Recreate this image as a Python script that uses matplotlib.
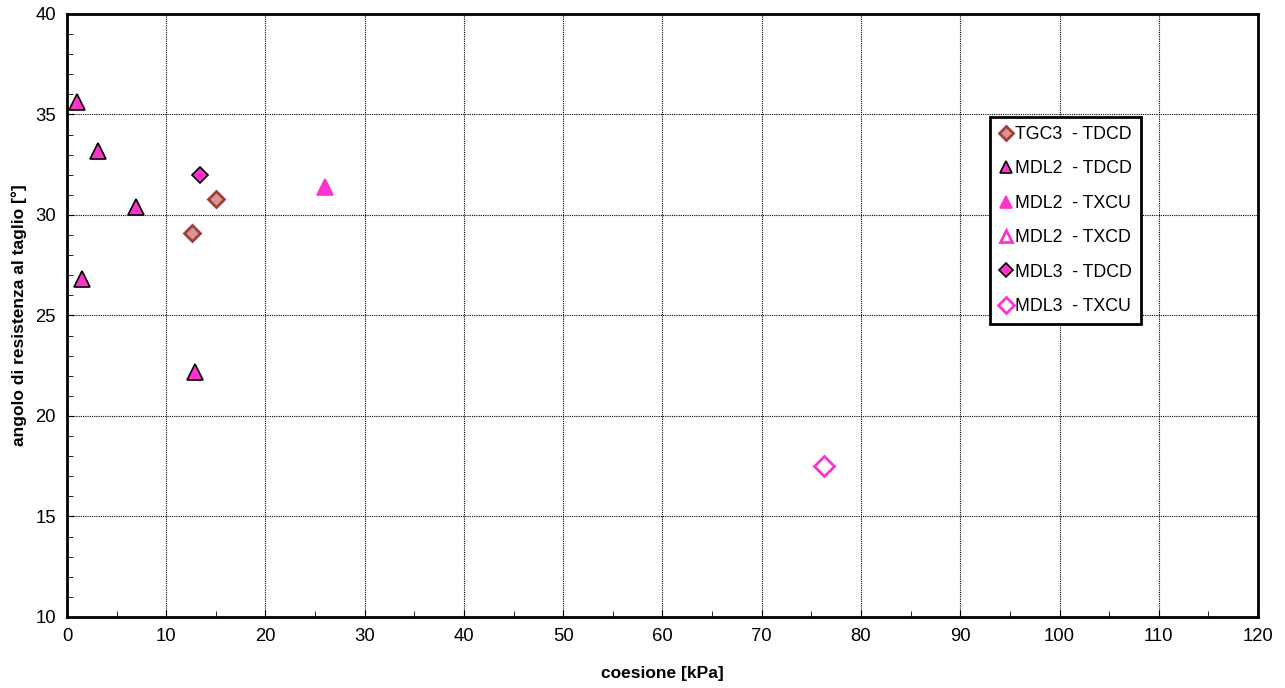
import matplotlib
matplotlib.use("Agg")
import matplotlib.pyplot as plt
from matplotlib.ticker import MultipleLocator

plt.rcParams['font.family'] = ['Liberation Sans', 'DejaVu Sans']

# data
tgc3_tdcd_c = [15.0, 12.6]
tgc3_tdcd_phi = [30.8, 29.1]
mdl2_tdcd_c = [1.0, 3.1, 7.0, 1.5, 12.9]
mdl2_tdcd_phi = [35.6, 33.2, 30.4, 26.8, 22.2]
mdl2_txcu_c = [26.0]
mdl2_txcu_phi = [31.4]
mdl2_txcd_c = []
mdl2_txcd_phi = []
mdl3_tdcd_c = [13.4]
mdl3_tdcd_phi = [32.0]
mdl3_txcu_c = [76.3]
mdl3_txcu_phi = [17.5]

pink = '#FF33CC'

fig = plt.figure(figsize=(12.85, 6.88), dpi=100)
ax = fig.add_axes([0.0521, 0.1032, 0.9269, 0.8765])

ax.plot(tgc3_tdcd_c, tgc3_tdcd_phi, 'D', ms=8, mfc='#D99594', mec='#A0403C', mew=2,
        ls='none', label='TGC3  - TDCD')
ax.plot(mdl2_tdcd_c, mdl2_tdcd_phi, '^', ms=11, mfc=pink, mec='black', mew=1.2,
        ls='none', label='MDL2  - TDCD')
ax.plot(mdl2_txcu_c, mdl2_txcu_phi, '^', ms=11, mfc=pink, mec=pink, mew=1.2,
        ls='none', label='MDL2  - TXCU')
ax.plot(mdl2_txcd_c, mdl2_txcd_phi, '^', ms=11, mfc='white', mec=pink, mew=2,
        ls='none', label='MDL2  - TXCD')
ax.plot(mdl3_tdcd_c, mdl3_tdcd_phi, 'D', ms=8, mfc=pink, mec='black', mew=1.2,
        ls='none', label='MDL3  - TDCD')
ax.plot(mdl3_txcu_c, mdl3_txcu_phi, 'D', ms=10, mfc='white', mec=pink, mew=2,
        ls='none', label='MDL3  - TXCU')

ax.set_xlim(0, 120)
ax.set_ylim(10, 40)
ax.xaxis.set_major_locator(MultipleLocator(10))
ax.xaxis.set_minor_locator(MultipleLocator(5))
ax.yaxis.set_major_locator(MultipleLocator(5))
ax.yaxis.set_minor_locator(MultipleLocator(1))
ax.grid(True, which='major', color='black', ls=(0, (1, 1)), lw=0.8)
ax.set_axisbelow(True)
ax.tick_params(which='both', direction='in', labelsize=13.3, top=False, right=False)
ax.tick_params(which='major', length=5, pad=8)
ax.tick_params(which='minor', length=4)
for s in ax.spines.values():
    s.set_linewidth(2)

ax.set_xlabel('coesione [kPa]', fontsize=12.5, fontweight='bold', labelpad=15)
ax.set_ylabel('angolo di resistenza al taglio [°]', fontsize=12.5, fontweight='bold', labelpad=6)

leg = ax.legend(loc='upper left', bbox_to_anchor=(0.775, 0.829), fontsize=12.8,
                fancybox=False, framealpha=1, edgecolor='black', handlelength=0.8,
                handletextpad=0.1, labelspacing=0.98, borderpad=0.5, markerscale=0.85,
                borderaxespad=0)
leg.get_frame().set_linewidth(2)

fig.savefig('out.png', dpi=100)
